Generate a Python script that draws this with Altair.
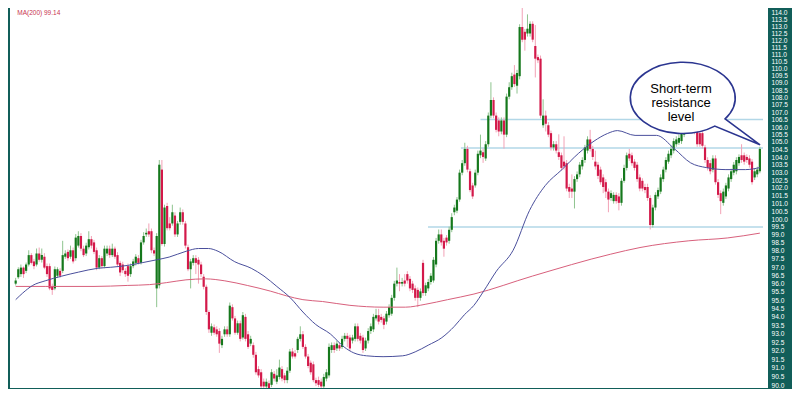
import altair as alt
import pandas as pd

# ---------------- candle data ----------------
open_ = [
    95.99, 96.38, 96.57, 96.97, 96.77, 97.16, 97.74, 97.35, 97.16, 97.84,
    97.45, 97.64, 97.06, 97.06, 95.80, 95.70, 96.47, 96.77, 96.77, 97.64,
    97.94, 97.64, 98.04, 97.55, 98.33, 98.93, 98.14, 97.84, 98.23, 98.73,
    98.53, 98.04, 96.97, 97.55, 97.06, 97.84, 98.14, 97.74, 98.14, 97.74,
    97.26, 97.16, 96.77, 97.06, 96.57, 97.06, 97.26, 97.55, 97.26, 98.53,
    99.03, 99.23, 99.23, 98.04, 95.70, 95.89, 103.18, 98.43, 100.83, 99.72,
    99.72, 100.22, 99.03, 99.82, 100.43, 99.72, 98.23, 96.87, 97.26, 97.55,
    97.45, 97.16, 96.41, 95.80, 94.28, 93.05, 93.37, 93.25, 93.15, 92.32,
    92.96, 93.25, 92.96, 94.57, 93.90, 93.05, 93.61, 92.77, 93.99, 92.96,
    92.41, 92.32, 91.76, 90.93, 90.75, 90.21, 89.94, 90.12, 90.03, 90.66,
    90.21, 90.48, 90.93, 90.57, 90.30, 90.84, 91.95, 91.85, 92.04, 92.69,
    92.96, 92.22, 91.66, 91.30, 91.21, 90.30, 90.30, 90.21, 89.94, 90.39,
    90.57, 92.04, 92.32, 92.13, 92.32, 92.22, 92.69, 92.87, 92.77, 92.59,
    92.69, 93.43, 92.87, 92.77, 92.13, 92.59, 93.15, 93.25, 93.90, 94.09,
    93.99, 93.90, 93.71, 94.09, 94.18, 95.13, 95.99, 96.09, 95.99, 96.18,
    96.57, 96.28, 95.99, 95.70, 95.61, 95.13, 97.26, 95.42, 95.70, 96.09,
    96.18, 97.16, 98.63, 99.03, 98.63, 98.83, 98.63, 99.32, 100.43, 100.53,
    101.24, 102.98, 103.60, 104.54, 103.07, 102.15, 102.15, 102.98, 104.12, 104.32,
    103.91, 104.85, 106.77, 107.83, 106.77, 106.44, 105.70, 106.44, 105.49, 108.06,
    108.71, 109.58, 108.81, 109.47, 112.93, 112.59, 112.47, 112.47, 113.16, 111.58,
    110.80, 110.69, 106.12, 106.77, 106.12, 105.59, 104.64, 104.85, 104.32, 104.12,
    103.70, 103.60, 102.05, 101.95, 101.75, 102.56, 102.87, 103.39, 103.81, 104.43,
    105.17, 104.54, 103.70, 103.50, 103.18, 102.67, 102.36, 101.75, 101.34, 101.14,
    101.54, 101.44, 101.03, 102.45, 103.29, 104.22, 104.12, 103.70, 103.50, 102.67,
    102.45, 102.05, 102.05, 101.34, 99.62, 100.73, 101.44, 101.75, 102.56, 103.18,
    103.70, 104.12, 104.43, 104.85, 104.95, 105.06, 105.49, 105.83, 106.33, 106.01,
    106.33, 105.81, 105.59, 105.59, 104.64, 103.81, 103.60, 103.18, 103.91, 102.36,
    101.65, 101.03, 101.44, 101.95, 102.56, 102.98, 103.07, 103.60, 104.12, 104.12,
    104.01, 103.91, 103.70, 102.67, 102.87, 103.07,
]
close = [
    96.18, 96.87, 96.97, 96.57, 97.16, 97.74, 97.26, 97.06, 97.84, 97.45,
    97.74, 96.97, 96.57, 95.70, 95.61, 96.87, 96.87, 96.47, 97.74, 97.84,
    97.55, 98.04, 97.35, 98.83, 98.93, 98.14, 97.74, 98.33, 98.73, 98.33,
    97.94, 96.97, 97.55, 97.06, 98.14, 98.14, 97.74, 98.14, 97.64, 97.16,
    96.67, 96.81, 96.57, 96.47, 97.06, 97.35, 97.64, 97.26, 98.53, 98.93,
    99.13, 99.03, 98.04, 97.84, 98.93, 103.50, 98.43, 100.73, 99.42, 99.42,
    100.43, 99.03, 99.72, 100.43, 99.82, 98.33, 96.87, 97.35, 97.55, 97.26,
    97.16, 96.57, 95.80, 94.28, 93.25, 93.43, 93.05, 92.96, 92.41, 92.69,
    93.25, 92.96, 94.66, 93.90, 93.05, 93.61, 92.69, 94.09, 92.69, 92.22,
    92.69, 91.76, 90.75, 90.57, 89.94, 89.94, 90.21, 89.85, 90.75, 90.39,
    90.57, 91.02, 90.39, 90.30, 90.84, 91.95, 91.66, 91.66, 92.69, 92.96,
    92.22, 91.66, 91.11, 90.75, 90.30, 90.12, 90.03, 89.94, 90.48, 90.75,
    92.22, 92.32, 92.04, 92.41, 92.13, 92.69, 92.87, 92.69, 92.13, 92.77,
    93.43, 92.69, 92.59, 92.04, 92.59, 93.15, 93.43, 93.99, 94.09, 93.71,
    93.81, 93.52, 94.18, 94.57, 95.13, 95.99, 96.18, 95.99, 96.09, 95.99,
    96.18, 95.70, 95.61, 95.13, 95.13, 95.52, 95.42, 95.89, 96.09, 96.47,
    97.45, 98.63, 99.03, 98.53, 98.14, 98.53, 99.32, 100.12, 100.73, 101.24,
    102.98, 103.60, 104.54, 103.18, 101.85, 101.44, 102.98, 104.22, 104.43, 104.01,
    104.85, 106.77, 107.83, 106.77, 105.81, 105.70, 106.44, 105.49, 108.06, 108.71,
    109.47, 108.92, 109.69, 112.93, 112.03, 112.03, 112.81, 113.16, 112.03, 110.69,
    110.58, 106.77, 106.77, 106.22, 105.49, 104.64, 104.85, 104.43, 104.01, 103.29,
    103.39, 101.95, 101.75, 101.75, 102.56, 102.87, 103.50, 103.81, 104.64, 105.17,
    104.54, 104.01, 103.39, 102.77, 102.36, 102.05, 101.75, 101.24, 101.65, 101.54,
    101.14, 101.03, 102.45, 103.29, 104.12, 103.91, 103.60, 103.29, 102.56, 101.95,
    101.95, 101.85, 101.34, 99.62, 100.73, 101.54, 101.85, 102.67, 103.18, 103.81,
    104.22, 104.54, 105.06, 105.17, 105.27, 105.59, 105.91, 106.20, 105.95, 106.46,
    105.70, 104.85, 104.85, 104.75, 103.81, 103.29, 103.07, 103.91, 102.36, 101.54,
    101.14, 101.75, 102.15, 102.67, 103.07, 103.50, 103.81, 104.01, 103.81, 103.70,
    103.81, 103.50, 102.36, 103.07, 103.18, 104.54,
]
high = [
    96.34, 96.99, 97.16, 97.04, 97.28, 98.04, 97.86, 97.51, 98.15, 98.21,
    98.15, 97.86, 97.22, 97.22, 95.99, 97.04, 96.99, 96.93, 98.63, 98.04,
    98.09, 98.33, 98.21, 99.05, 99.23, 99.11, 98.33, 98.51, 99.23, 98.93,
    98.69, 98.21, 97.74, 97.68, 98.33, 98.33, 98.33, 98.45, 98.27, 97.92,
    97.39, 97.33, 96.93, 97.22, 97.22, 97.51, 97.80, 97.74, 98.69, 99.17,
    99.40, 99.72, 99.40, 98.21, 99.11, 103.81, 103.81, 100.91, 101.03, 100.12,
    100.91, 100.43, 99.88, 100.73, 100.61, 99.88, 98.39, 97.51, 97.74, 97.74,
    97.62, 97.33, 96.57, 95.93, 94.39, 93.60, 93.54, 93.43, 93.32, 92.87,
    93.43, 93.43, 94.85, 94.74, 94.05, 93.77, 93.77, 94.28, 94.17, 93.15,
    92.87, 92.48, 91.93, 91.10, 90.93, 90.39, 90.39, 90.28, 90.93, 90.82,
    90.93, 91.48, 91.10, 90.71, 91.04, 92.10, 92.15, 92.04, 92.81, 93.43,
    93.15, 92.37, 91.81, 91.43, 91.37, 90.44, 90.50, 90.39, 90.66, 90.93,
    92.42, 92.48, 92.48, 92.59, 92.48, 92.87, 93.04, 93.04, 92.93, 92.93,
    93.60, 93.60, 93.04, 92.93, 92.76, 93.32, 93.60, 94.17, 94.47, 94.47,
    94.17, 94.05, 94.34, 94.74, 95.31, 96.16, 96.97, 96.57, 96.34, 96.57,
    96.75, 96.45, 96.16, 95.88, 95.76, 95.70, 97.45, 96.05, 96.28, 96.63,
    97.62, 98.81, 99.34, 99.34, 98.81, 98.99, 99.52, 100.37, 100.91, 101.40,
    103.18, 103.81, 104.95, 104.75, 103.24, 102.32, 103.18, 104.43, 105.49, 104.56,
    105.06, 106.98, 109.05, 108.01, 106.98, 106.65, 106.65, 106.65, 108.27, 109.05,
    109.71, 110.24, 109.91, 113.13, 114.30, 112.79, 113.84, 113.34, 113.34, 113.07,
    110.98, 110.91, 107.88, 107.11, 106.33, 105.76, 105.06, 105.06, 105.51, 104.30,
    105.38, 103.81, 102.26, 102.87, 102.75, 103.06, 103.68, 103.99, 104.81, 105.38,
    105.81, 104.75, 104.43, 103.68, 103.37, 102.87, 102.56, 101.95, 101.83, 101.71,
    101.71, 101.65, 102.62, 103.50, 104.30, 104.54, 104.30, 103.87, 103.68, 102.87,
    102.62, 102.26, 102.26, 101.52, 100.91, 101.71, 102.01, 102.87, 103.37, 103.99,
    104.43, 104.75, 105.25, 105.38, 105.51, 105.83, 106.08, 106.46, 106.59, 106.72,
    106.52, 106.01, 105.83, 105.83, 104.81, 103.99, 103.81, 104.12, 104.12, 102.56,
    101.83, 101.95, 102.32, 102.87, 103.24, 103.68, 103.99, 104.18, 104.85, 104.30,
    104.18, 104.12, 103.87, 103.24, 103.37, 104.68,
]
low = [
    95.88, 96.28, 96.40, 96.34, 96.63, 97.04, 97.16, 96.87, 97.04, 97.33,
    97.28, 96.87, 96.40, 95.59, 95.31, 95.59, 96.34, 96.34, 96.63, 97.51,
    97.39, 97.51, 97.22, 97.39, 98.21, 97.98, 97.62, 97.68, 98.09, 98.15,
    97.80, 96.81, 96.87, 96.93, 96.93, 97.68, 97.57, 97.62, 97.51, 97.04,
    96.45, 96.63, 96.40, 96.11, 96.40, 96.93, 97.10, 97.16, 97.16, 98.39,
    98.87, 98.87, 97.86, 97.68, 94.57, 95.70, 98.33, 98.27, 99.28, 99.28,
    99.58, 98.87, 98.87, 99.64, 99.64, 98.15, 96.75, 95.70, 97.10, 96.57,
    95.99, 96.40, 95.64, 94.11, 93.04, 92.87, 92.93, 92.81, 91.87, 92.15,
    92.81, 92.81, 92.81, 93.77, 92.93, 92.93, 92.54, 92.65, 92.54, 92.10,
    92.26, 91.59, 90.61, 90.44, 89.85, 89.80, 89.80, 89.74, 89.90, 90.23,
    90.07, 90.34, 90.23, 90.12, 90.12, 90.71, 91.54, 91.54, 91.87, 92.54,
    92.10, 91.54, 90.98, 90.61, 90.18, 89.96, 89.90, 89.80, 89.80, 90.23,
    90.44, 91.87, 91.87, 91.98, 91.98, 92.10, 92.54, 92.21, 91.98, 92.42,
    92.54, 92.54, 92.42, 91.87, 91.98, 92.42, 92.98, 93.09, 93.77, 93.54,
    93.65, 93.26, 93.54, 93.94, 94.05, 94.96, 95.82, 95.53, 95.82, 95.82,
    95.99, 95.53, 95.42, 94.96, 94.57, 94.96, 95.25, 95.25, 95.53, 95.93,
    96.05, 96.99, 98.45, 98.33, 97.64, 98.33, 98.45, 99.17, 100.24, 100.37,
    101.10, 102.81, 103.43, 103.00, 101.71, 101.28, 102.01, 102.81, 103.93, 103.62,
    103.75, 104.68, 106.59, 106.59, 105.64, 105.38, 105.51, 104.56, 105.32, 107.88,
    108.53, 108.73, 108.27, 109.25, 111.85, 111.25, 112.25, 112.25, 111.85, 109.38,
    110.38, 106.59, 105.95, 105.70, 105.32, 104.43, 104.43, 104.24, 103.81, 103.12,
    103.18, 101.77, 101.34, 101.34, 100.67, 102.38, 102.68, 103.18, 103.62, 104.24,
    104.37, 103.81, 103.18, 102.56, 102.20, 101.65, 101.34, 100.43, 101.16, 100.98,
    100.98, 100.55, 100.85, 102.32, 103.12, 103.75, 103.43, 103.12, 102.38, 101.77,
    101.77, 101.65, 101.16, 99.34, 99.46, 100.55, 101.28, 101.59, 102.38, 103.00,
    103.56, 103.93, 104.24, 104.68, 104.81, 104.87, 105.32, 105.64, 105.76, 105.83,
    105.51, 104.68, 104.68, 104.56, 103.62, 103.12, 102.87, 103.00, 102.20, 101.34,
    100.31, 100.85, 101.28, 101.77, 102.38, 102.81, 102.87, 103.43, 103.62, 103.50,
    103.62, 103.31, 102.20, 102.50, 102.68, 102.94,
]

# ---------------- moving averages ----------------
ma50_idx = [0, 2.7, 6.5, 11.3, 17.7, 24.0, 31.5, 36.4, 42.7, 48.7,
            54.0, 58.8, 65.3, 70.0, 73.8, 77.5, 83.9, 90.2, 95.1, 100.0,
            105.2, 110.0, 114.9, 120.5, 125.8, 129.5, 134.4, 140.7, 148.2, 153.0,
            158.0, 163.2, 168.0, 171.8, 175.5, 179.2, 184.1, 190.5, 196.8, 202.8,
            209.2, 215.5, 221.5, 226.7, 230.5, 237.2, 245.4, 252.2, 258.5, 264.5,
            272.0, 279.5, 285.0]
ma50_val = [95.02, 95.42, 95.88, 96.16, 96.45, 96.69, 96.93, 96.99, 97.10, 97.28,
            97.45, 97.62, 97.98, 98.15, 98.15, 97.98, 97.33, 96.93, 96.45, 95.82,
            95.13, 94.28, 93.54, 92.98, 92.21, 91.87, 91.70, 91.65, 91.70, 91.93,
            92.32, 92.76, 93.43, 94.11, 94.68, 95.53, 96.75, 98.04, 100.55, 102.14,
            103.18, 104.24, 105.06, 105.57, 105.76, 105.44, 105.44, 104.56, 103.62, 103.31,
            103.18, 103.18, 103.31]
ma200_idx = [0, 11.3, 30.0, 42.7, 51.3, 57.7, 65.2, 72.7, 80.1, 88.7,
             97.7, 103.7, 110.0, 117.5, 128.0, 140.7, 149.3, 156.8, 165.4, 175.5,
             197.9, 227.9, 239.1, 257.8, 272.7, 285.0]
ma200_val = [95.82, 95.82, 95.82, 95.88, 95.93, 96.05, 96.22, 96.28, 96.16, 95.88,
             95.53, 95.25, 95.02, 94.91, 94.68, 94.57, 94.57, 94.74, 95.02, 95.36,
             96.45, 97.80, 98.21, 98.63, 98.81, 99.11]

# ---------------- horizontal levels & annotations ----------------
level_price = [106.5, 104.6, 99.5]
level_start = [178.0, 170.5, 157.9]
level_end = [286.2, 286.2, 286.2]

callout_lines = ["Short-term", "resistance", "level"]
callout_line_price = [108.60, 107.62, 106.68]
callout_text_idx = [254.8, 254.8, 254.8]
callout_idx = [255.5]
callout_price = [107.98]

ma_label = ["MA(200) 99.14"]
ma_label_idx = [0.6]
ma_label_price = [113.92]

y_ticks = [round(90.0 + 0.5 * k, 1) for k in range(49)]

TEAL = "#115e59"
GREEN = "#15781c"
RED = "#d3194a"
GREEN_WICK = "#8fc48f"
RED_WICK = "#f2a2b6"

candles = pd.DataFrame({"idx": list(range(len(close))), "open": open_,
                        "high": high, "low": low, "close": close})
ma50 = pd.DataFrame({"idx": ma50_idx, "v": ma50_val})
ma200 = pd.DataFrame({"idx": ma200_idx, "v": ma200_val})
levels = pd.DataFrame({"s": level_start, "e": level_end, "p": level_price})
callout = pd.DataFrame({"idx": callout_idx, "p": callout_price})
ctext = pd.DataFrame({"idx": callout_text_idx, "p": callout_line_price, "t": callout_lines})
mlab = pd.DataFrame({"idx": ma_label_idx, "p": ma_label_price, "t": ma_label})

xscale = alt.Scale(domain=[-0.26, 286.2], nice=False, zero=False)
yscale = alt.Scale(type="log", domain=[89.85, 114.3], nice=False, zero=False)
yaxis = alt.Axis(orient="right", values=y_ticks, format=".1f", labelColor="white",
                 labelFontSize=6.6, labelFont="Liberation Sans", ticks=False,
                 domain=False, grid=False, labelPadding=3, labelOverlap=False,
                 title=None, minExtent=24, maxExtent=24)


def X(f):
    return alt.X(f, type="quantitative", scale=xscale, axis=None)


def Y(f):
    return alt.Y(f, type="quantitative", scale=yscale, axis=yaxis)


up = "datum.close >= datum.open"

level_layer = alt.Chart(levels).mark_rule(color="#b2d7e7", strokeWidth=1.5).encode(
    x=X("s"), x2="e", y=Y("p"))

wick_layer = alt.Chart(candles).mark_rule(strokeWidth=1, clip=True).encode(
    x=X("idx"), y=Y("low"), y2="high",
    color=alt.condition(up, alt.value(GREEN_WICK), alt.value(RED_WICK)))

body_layer = alt.Chart(candles).mark_bar(size=2.2, clip=True).encode(
    x=X("idx"), y=Y("open"), y2="close",
    color=alt.condition(up, alt.value(GREEN), alt.value(RED)))

ma200_layer = alt.Chart(ma200).mark_line(color="#d8607c", strokeWidth=1,
                                          interpolate="monotone", clip=True).encode(
    x=X("idx"), y=Y("v"))
ma50_layer = alt.Chart(ma50).mark_line(color="#4a4f9c", strokeWidth=1,
                                        interpolate="monotone", clip=True).encode(
    x=X("idx"), y=Y("v"))

bubble_path = "M0.845 0.422 L1.544 0.941 L0.638 0.566 A1.049 0.7125 0 1 1 0.845 0.422 Z"
callout_layer = alt.Chart(callout).mark_point(
    shape=bubble_path, size=10000, filled=True, fill="white", fillOpacity=1,
    stroke="#2b3590", strokeWidth=1.6, opacity=1).encode(x=X("idx"), y=Y("p"))

ctext_layer = alt.Chart(ctext).mark_text(
    font="Liberation Sans", fontSize=13, color="black", align="center",
    baseline="middle").encode(x=X("idx"), y=Y("p"), text="t:N")

mlab_layer = alt.Chart(mlab).mark_text(
    font="Liberation Sans", fontSize=6.5, color="#c8344f", align="left",
    baseline="middle").encode(x=X("idx"), y=Y("p"), text="t:N")

chart = alt.layer(
    level_layer, wick_layer, body_layer, ma200_layer, ma50_layer,
    callout_layer, ctext_layer, mlab_layer,
).properties(
    width=758, height=380,
    padding={"left": 2, "right": 0, "top": 0, "bottom": 0},
    background=TEAL,
).configure_view(fill="white", strokeWidth=0)

chart.save("out.html", embed_options={"renderer": "svg", "actions": False})
